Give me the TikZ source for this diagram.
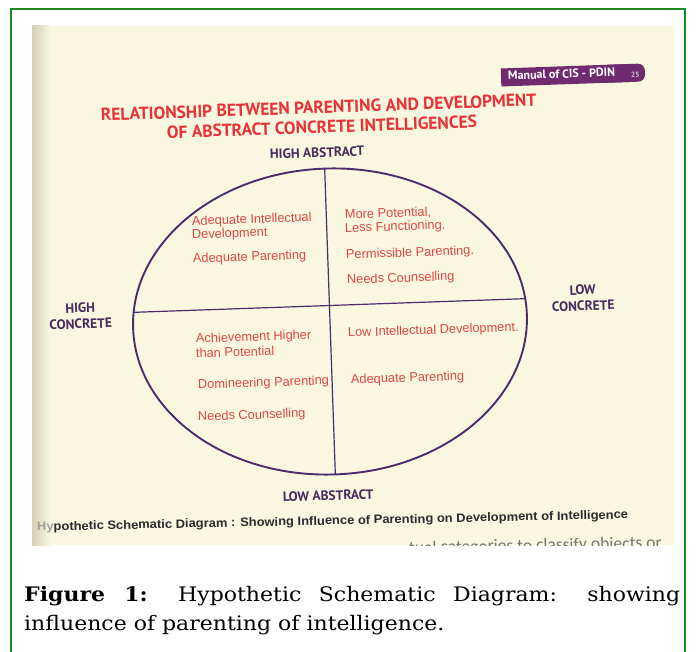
\documentclass[tikz,border=0pt]{standalone}
\usepackage{fontspec}
\setmainfont{DejaVu Serif}
\newfontfamily\capfont[FakeStretch=1.1]{DejaVu Serif}
\newfontfamily\headfont{PT Sans}
\newfontfamily\bodyfont{Liberation Sans}
\newfontfamily\legendfont[FakeStretch=1.06]{Liberation Sans}
\newfontfamily\pagefont{Carlito}

\definecolor{framegreen}{RGB}{28,138,28}
\definecolor{paper}{RGB}{249,247,224}
\definecolor{paperedge}{RGB}{214,206,181}
\definecolor{inkred}{RGB}{232,50,54}
\definecolor{textred}{RGB}{226,70,68}
\definecolor{inkpurple}{RGB}{72,42,92}
\definecolor{linepurple}{RGB}{78,44,108}
\definecolor{tabpurple}{RGB}{112,42,112}
\definecolor{inkgray}{RGB}{45,42,48}
\definecolor{fadegray}{RGB}{120,118,112}

\tikzset{
  heading/.style={font=\headfont\bfseries\fontsize{17.4}{17.4}\selectfont, text=inkred,
    rotate=2, inner sep=0pt, anchor=base west},
  axislabel/.style={font=\headfont\bfseries\fontsize{13.5}{16}\selectfont, text=inkpurple,
    rotate=2, inner sep=0pt, align=center},
  quadtext/.style={font=\bodyfont\fontsize{12.8}{14}\selectfont, text=textred,
    rotate=2, inner sep=0pt, anchor=base west},
  figcaption/.style={font=\capfont\fontsize{20}{29}\selectfont, inner sep=0pt, anchor=base west},
  outline/.style={draw=linepurple, line width=1.9pt},
  divider/.style={draw=linepurple, line width=1.2pt}
}

\begin{document}
\begin{tikzpicture}[x=1pt,y=-1pt]
\useasboundingbox (0,0) rectangle (696,652);
\clip (0,0) rectangle (696,652);

% page background and frame
\fill[white] (0,0) rectangle (696,652);
\draw[framegreen, line width=2.6pt] (11,9) rectangle (685,680);

% scanned page
\begin{scope}
  \clip (32,26) rectangle (674,545);
  \fill[paper] (32,26) rectangle (674,545);
  \shade[left color=paperedge, right color=paper] (32,26) rectangle (50,545);

  % running head tab
  \begin{scope}[rotate around={2:(572,75)}]
    \fill[tabpurple] (501,66) rectangle (630,84);
    \fill[tabpurple, rounded corners=7pt] (600,66) rectangle (645,84);
  \end{scope}
  \node[font=\headfont\bfseries\fontsize{12}{12}\selectfont, text=white, rotate=2,
        inner sep=0pt, anchor=base west] (tab) at (508,80) {Manual of CIS - PDIN};
  \node[font=\headfont\bfseries\fontsize{7.5}{8}\selectfont, text=tabpurple!30, rotate=2,
        inner sep=0pt, anchor=base west] (pagenum) at (631,78) {25};

  % title
  \node[heading] (title1) at (101,121) {RELATIONSHIP BETWEEN PARENTING AND DEVELOPMENT};
  \node[heading] (title2) at (167,138.5) {OF ABSTRACT CONCRETE INTELLIGENCES};

  % the divided ellipse
  \begin{scope}[rotate around={2:(330,321.5)}]
    \coordinate (c) at (330,321.5);
    \coordinate (top) at (330,168.5);
    \coordinate (bottom) at (330,474.5);
    \coordinate (west) at (134.1,305.5);
    \coordinate (east) at (525.9,305.5);
    \draw[outline] (c) ellipse [x radius=197, y radius=153];
    \draw[divider] (top) -- (bottom);
    \draw[divider] (west) -- (east);
  \end{scope}

  % axis labels
  \node[axislabel, anchor=base west] (highabs) at (270,159) {HIGH ABSTRACT};
  \node[axislabel, anchor=base west] (lowabs) at (283,502) {LOW ABSTRACT};
  \node[axislabel] (highcon) at (80.5,316) {HIGH\\CONCRETE};
  \node[axislabel] (lowcon) at (583,298) {LOW\\CONCRETE};

  % upper left quadrant
  \node[quadtext] (ul1a) at (192,225.5) {Adequate Intellectual};
  \node[quadtext] (ul1b) at (192,239) {Development};
  \node[quadtext] (ul2) at (193,263) {Adequate Parenting};
  % upper right quadrant
  \node[quadtext] (ur1a) at (345,219) {More Potential,};
  \node[quadtext] (ur1b) at (345,232.5) {Less Functioning.};
  \node[quadtext] (ur2) at (346,259) {Permissible Parenting.};
  \node[quadtext] (ur3) at (347,284) {Needs Counselling};
  % lower left quadrant
  \node[quadtext] (ll1a) at (196,343) {Achievement Higher};
  \node[quadtext] (ll1b) at (196,358) {than Potential};
  \node[quadtext] (ll2) at (198,389) {Domineering Parenting};
  \node[quadtext] (ll3) at (198,421) {Needs Counselling};
  % lower right quadrant
  \node[quadtext] (lr1) at (348,337) {Low Intellectual Development.};
  \node[quadtext] (lr2) at (351,384) {Adequate Parenting};

  % printed figure legend and the next line of the page
  \node[font=\legendfont\bfseries\fontsize{12.2}{13}\selectfont, text=inkgray, rotate=1.2,
        inner sep=0pt, anchor=base west] (legend) at (37,531)
        {\textcolor{fadegray!70}{Hy}pothetic Schematic Diagram : Showing Influence of Parenting on Development of Intelligence};
  \node[font=\pagefont\fontsize{17.5}{18}\selectfont, text=fadegray, rotate=1.2,
        inner sep=0pt, anchor=base west] (nextline) at (409,553.5)
        {tual categories to classify objects or};
\end{scope}

% figure caption
\node[figcaption] (cap1) at (24,601)
  {\hbox to 656pt{\textbf{Figure 1:} Hypothetic Schematic Diagram: showing}};
\node[figcaption] (cap2) at (24,630) {influence of parenting of intelligence.};
\end{tikzpicture}
\end{document}
